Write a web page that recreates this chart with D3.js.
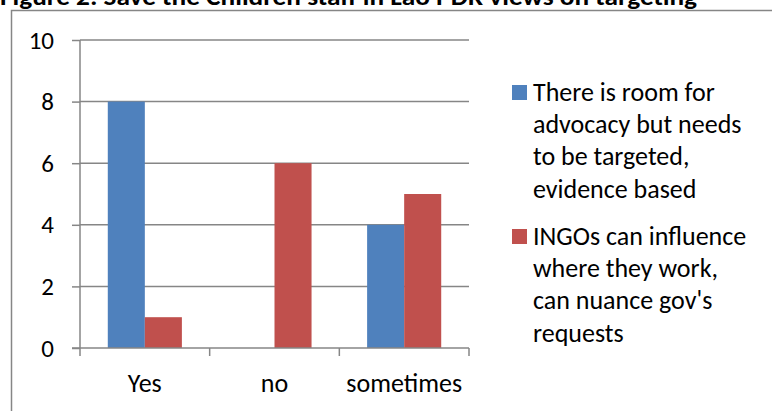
<!DOCTYPE html>
<html>
<head>
<meta charset="utf-8">
<script src="https://cdn.jsdelivr.net/npm/d3@7"></script>
<style>
  html, body { margin: 0; padding: 0; background: #fff; }
  svg { display: block; }
  text { font-family: Carlito, Calibri, Lato, sans-serif; fill: #000; }
</style>
</head>
<body>
<svg id="chart" width="772" height="411"></svg>
<script>
// Survey answers, one group per answer
const categories = ["Yes", "no", "sometimes"];
const seriesNames = [
  "There is room for advocacy but needs to be targeted, evidence based",
  "INGOs can influence where they work, can nuance gov's requests"
];
// Legend labels broken over lines
const legendLines = [
  ["There is room for", "advocacy but needs", "to be targeted,", "evidence based"],
  ["INGOs can influence", "where they work,", "can nuance gov's", "requests"]
];
const advocacyTargeted = [8, 0, 4];
const ingoInfluence = [1, 6, 5];
const yTicks = [0, 2, 4, 6, 8, 10];
const seriesColors = ["#4F81BD", "#C0504D"];
const titleText = "Figure 2: Save the Children staff in Lao PDR views on targeting";

const seriesValues = [advocacyTargeted, ingoInfluence];
const rows = categories.map((c, i) => ({
  category: c,
  values: seriesValues.map((vals, s) => ({ series: s, value: vals[i] }))
}));

const svg = d3.select("#chart");
const axisGray = "#868686";

// Title (sits partly above the top edge)
svg.append("text")
  .attr("x", 0).attr("y", 5)
  .attr("font-size", 24).attr("font-weight", "bold")
  .attr("textLength", 697).attr("lengthAdjust", "spacingAndGlyphs")
  .text(titleText);

// Chart frame
svg.append("rect")
  .attr("x", 11.5).attr("y", 10.5)
  .attr("width", 800).attr("height", 420)
  .attr("fill", "none").attr("stroke", axisGray).attr("stroke-width", 1.5);

const plot = { left: 80, right: 469, top: 40, bottom: 348 };

const y = d3.scaleLinear().domain([0, 10]).range([plot.bottom, plot.top]);
const x0 = d3.scaleBand().domain(categories).range([plot.left, plot.right]).padding(0);
// 150% gap width between groups
const bw = x0.bandwidth();
const gap = bw * 0.75 / 3.5;
const x1 = d3.scaleBand().domain(d3.range(seriesNames.length)).range([gap, bw - gap]).padding(0);

// Horizontal gridlines
svg.append("g")
  .selectAll("line")
  .data(yTicks.filter(t => t > 0))
  .join("line")
  .attr("x1", plot.left).attr("x2", plot.right)
  .attr("y1", d => y(d)).attr("y2", d => y(d))
  .attr("stroke", axisGray).attr("stroke-width", 1.5);

// Bars
svg.append("g")
  .selectAll("g")
  .data(rows)
  .join("g")
  .attr("transform", d => `translate(${x0(d.category)},0)`)
  .selectAll("rect")
  .data(d => d.values.filter(v => v.value > 0))
  .join("rect")
  .attr("x", d => x1(d.series))
  .attr("width", x1.bandwidth())
  .attr("y", d => y(d.value))
  .attr("height", d => y(0) - y(d.value))
  .attr("fill", d => seriesColors[d.series]);

// Y axis
const yAxis = svg.append("g")
  .attr("transform", `translate(${plot.left},0)`)
  .call(d3.axisLeft(y).tickValues(yTicks).tickSize(8).tickPadding(18).tickFormat(d3.format("d")));
yAxis.select(".domain").attr("stroke", axisGray).attr("stroke-width", 1.5)
  .attr("d", `M0,${plot.top}V${plot.bottom}`);
yAxis.selectAll(".tick line").attr("stroke", axisGray).attr("stroke-width", 1.5);
yAxis.selectAll(".tick text").attr("font-size", 25).attr("fill", "#000")
  .attr("font-family", "Carlito, Calibri, Lato, sans-serif");

// X axis: ticks at category boundaries
svg.append("line")
  .attr("x1", plot.left - 8).attr("x2", plot.right)
  .attr("y1", plot.bottom).attr("y2", plot.bottom)
  .attr("stroke", axisGray).attr("stroke-width", 1.5);
const bounds = categories.map(c => x0(c)).concat([plot.right]);
svg.append("g")
  .selectAll("line")
  .data(bounds)
  .join("line")
  .attr("x1", d => d).attr("x2", d => d)
  .attr("y1", plot.bottom).attr("y2", plot.bottom + 8)
  .attr("stroke", axisGray).attr("stroke-width", 1.5);
svg.append("g")
  .selectAll("text")
  .data(categories)
  .join("text")
  .attr("x", d => x0(d) + bw / 2)
  .attr("y", 392)
  .attr("text-anchor", "middle")
  .attr("font-size", 26)
  .text(d => d);

// Legend
const legendTop = [85, 229];
const lineGap = 32.4;
const legend = svg.append("g")
  .selectAll("g")
  .data(seriesNames)
  .join("g")
  .attr("transform", (d, i) => `translate(512,${legendTop[i]})`);
legend.append("rect")
  .attr("width", 15).attr("height", 15)
  .attr("fill", (d, i) => seriesColors[i]);
legend.append("text")
  .attr("font-size", 26)
  .selectAll("tspan")
  .data((d, i) => legendLines[i])
  .join("tspan")
  .attr("x", 21)
  .attr("y", (d, j) => 15.5 + j * lineGap)
  .text(d => d);
</script>
</body>
</html>
